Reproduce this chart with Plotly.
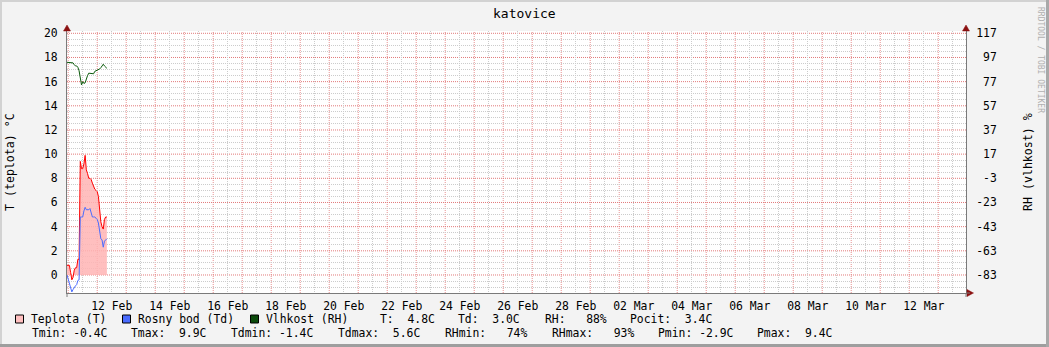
import plotly.graph_objects as go
import pandas as pd

# ---------------- data ----------------
start_time = "2025-02-10 23:00"
n_hours = 34
times = pd.date_range(start_time, periods=n_hours, freq="h")

teplota = [0.8, 0.8, 0.8, 0.2, -0.4, -0.2, 0.4, 0.6, 0.6, 1.3, 1.3,
           9.4, 8.8, 8.8, 9.2, 9.9, 8.7, 8.4, 8.0, 8.0, 7.9, 7.6, 7.3,
           7.1, 7.0, 6.9, 6.5, 5.2, 4.4, 4.0, 3.8, 4.6, 4.8, 4.8]
rosny_bod = [0.0, -0.4, -0.7, -1.1, -1.4, -1.2, -1.0, -0.9, -0.8, -0.45, -0.4,
             4.8, 4.8, 4.8, 5.3, 5.6, 5.4, 5.4, 5.4, 5.5, 5.0, 4.8, 4.8,
             4.8, 4.7, 4.6, 4.3, 3.6, 3.0, 2.9, 2.3, 2.8, 2.95, 3.0]
vlhkost = [93, 93, 93, 93, 93, 92.5, 91, 90, 90, 88.8, 86,
           78, 74.3, 77, 75.5, 76, 80, 82, 84, 84, 83.5, 84, 83.5,
           85.5, 86, 86, 86.5, 87.5, 88.5, 90, 91.4, 90, 88.8, 88]

x_range = ["2025-02-10 23:00", "2025-03-13 23:00"]
label_dates = ["2025-02-12 12:00", "2025-02-14 12:00", "2025-02-16 12:00",
               "2025-02-18 12:00", "2025-02-20 12:00", "2025-02-22 12:00",
               "2025-02-24 12:00", "2025-02-26 12:00", "2025-02-28 12:00",
               "2025-03-02 12:00", "2025-03-04 12:00", "2025-03-06 12:00",
               "2025-03-08 12:00", "2025-03-10 12:00", "2025-03-12 12:00"]
label_texts = ["12 Feb", "14 Feb", "16 Feb", "18 Feb", "20 Feb", "22 Feb",
               "24 Feb", "26 Feb", "28 Feb", "02 Mar", "04 Mar", "06 Mar",
               "08 Mar", "10 Mar", "12 Mar"]
t_ticks = [0, 2, 4, 6, 8, 10, 12, 14, 16, 18, 20]
rh_ticks = [-83, -63, -43, -23, -3, 17, 37, 57, 77, 97, 117]
t_range = [-1.49, 20.19]

legend_row1 = [("Teplota (T)", 30), ("Rosny bod (Td)", 137), ("Vlhkost (RH)", 265),
               ("T:  4.8C", 379), ("Td:  3.0C", 457), ("RH:   88%", 544),
               ("Pocit:  3.4C", 629)]
legend_row2 = [("Tmin: -0.4C", 30.5), ("Tmax:  9.9C", 130), ("Tdmin: -1.4C", 230),
               ("Tdmax:  5.6C", 337), ("RHmin:   74%", 444), ("RHmax:   93%", 551),
               ("Pmin: -2.9C", 656.5), ("Pmax:  9.4C", 756)]

# ---------------- styling ----------------
W, H = 1049, 347
PL, PR, PT, PB = 67, 966, 31, 293
FONT = "DejaVu Sans Mono"
RED_GRID_V = "#e89090"
RED_GRID_H = "#e27a7a"
GRAY_GRID = "#cccccc"
GRID_DASH = "1px,1px"
AXIS = "#7a7a7a"
ARROW = "#8b1010"
C_FILL = "rgba(255,180,180,0.85)"
C_T = "#ff0000"
C_TD = "#4a6cff"
C_RH = "#0b5a0b"


def px(x):
    return (x - PL) / (PR - PL)


def py(y):
    return (PB - y) / (PB - PT)


rh_range = [v * 10 - 83 for v in t_range]
rh_text = [f"{v:>3}".replace(" ", "\u00a0") for v in rh_ticks]
day_lines = pd.date_range("2025-02-11", "2025-03-13", freq="D")

fig = go.Figure()
fig.add_trace(go.Scatter(x=times, y=teplota, mode="lines", fill="tozeroy",
                         fillcolor=C_FILL, line=dict(color=C_T, width=1),
                         name="Teplota (T)", xaxis="x", yaxis="y"))
fig.add_trace(go.Scatter(x=times, y=rosny_bod, mode="lines",
                         line=dict(color=C_TD, width=1),
                         name="Rosny bod (Td)", xaxis="x", yaxis="y"))
fig.add_trace(go.Scatter(x=times, y=vlhkost, mode="lines",
                         line=dict(color=C_RH, width=1),
                         name="Vlhkost (RH)", xaxis="x", yaxis="y2"))

tickfont = dict(family=FONT, size=11.4, color="#000")

fig.update_layout(
    width=W, height=H,
    margin=dict(l=PL, r=W - PR, t=PT, b=H - PB, pad=0),
    paper_bgcolor="#f3f3f3", plot_bgcolor="#ffffff",
    showlegend=False,
    xaxis=dict(type="date", range=x_range, tickmode="array",
               tickvals=label_dates, ticktext=label_texts, tickfont=tickfont,
               ticklabelstandoff=2, showgrid=False, zeroline=False, ticks="",
               showline=True, linecolor=AXIS, linewidth=1,
               minor=dict(tick0="2025-02-11 12:00", dtick=86400000, showgrid=True,
                          gridcolor=GRAY_GRID, griddash=GRID_DASH, gridwidth=1)),
    yaxis=dict(range=t_range, tickmode="array", tickvals=t_ticks,
               tickfont=tickfont, showgrid=False, zeroline=False, ticks="",
               ticklabelstandoff=6,
               showline=True, linecolor=AXIS, linewidth=1,
               minor=dict(tick0=0.5, dtick=1, showgrid=True, gridcolor=GRAY_GRID,
                          griddash=GRID_DASH, gridwidth=1)),
    yaxis2=dict(range=rh_range, overlaying="y", side="right", tickmode="array",
                tickvals=rh_ticks, ticktext=rh_text, tickfont=tickfont,
                showgrid=False, zeroline=False, ticks="", ticklabelstandoff=7,
                showline=True, linecolor=AXIS, linewidth=1,
                minor=dict(tick0=-73, dtick=20, showgrid=True, gridcolor=GRAY_GRID,
                           griddash=GRID_DASH, gridwidth=1)),
)

ann = []
ann.append(dict(text="katovice", x=px(524), y=py(13), xref="paper", yref="paper",
                showarrow=False, xanchor="center", yanchor="middle",
                font=dict(family=FONT, size=13, color="#000")))
ann.append(dict(text="T (teplota) °C", x=px(10), y=py(162), xref="paper",
                yref="paper", showarrow=False, textangle=-90,
                xanchor="center", yanchor="middle",
                font=dict(family=FONT, size=11.6, color="#000")))
ann.append(dict(text="RH (vlhkost) %", x=px(1028), y=py(162), xref="paper",
                yref="paper", showarrow=False, textangle=-90,
                xanchor="center", yanchor="middle",
                font=dict(family=FONT, size=11.6, color="#000")))
ann.append(dict(text="RRDTOOL / TOBI OETIKER", x=px(1040), y=py(5), xref="paper",
                yref="paper", showarrow=False, textangle=90,
                xanchor="center", yanchor="top",
                font=dict(family=FONT, size=8, color="#b0b0b0")))
for txt, x0 in legend_row1:
    ann.append(dict(text=txt.replace(" ", "\u00a0"), x=px(x0), y=py(319),
                    xref="paper", yref="paper", showarrow=False,
                    xanchor="left", yanchor="middle", borderpad=0,
                    font=dict(family=FONT, size=11.4, color="#000")))
for txt, x0 in legend_row2:
    ann.append(dict(text=txt.replace(" ", "\u00a0"), x=px(x0), y=py(333),
                    xref="paper", yref="paper", showarrow=False,
                    xanchor="left", yanchor="middle", borderpad=0,
                    font=dict(family=FONT, size=11.4, color="#000")))
fig.update_layout(annotations=ann)

shapes = []
# major grid (red dotted) on the data scales
for d in day_lines:
    shapes.append(dict(type="line", xref="x", yref="paper", x0=d, x1=d, y0=0, y1=1,
                       layer="between", line=dict(color=RED_GRID_V, width=1, dash=GRID_DASH)))
for t in t_ticks:
    shapes.append(dict(type="line", xref="paper", yref="y", x0=0, x1=1, y0=t, y1=t,
                       layer="between", line=dict(color=RED_GRID_H, width=1, dash=GRID_DASH)))
# legend swatches
for x0, col in [(15.5, "#ffc0c0"), (122.5, "#4a6cff"), (250.5, "#0b4a0b")]:
    shapes.append(dict(type="rect", xref="paper", yref="paper",
                       x0=px(x0), x1=px(x0 + 8), y0=py(315), y1=py(323),
                       fillcolor=col, line=dict(color="#000", width=1)))


def tri(pts):
    d = "M " + " L ".join(f"{px(a)},{py(b)}" for a, b in pts) + " Z"
    return dict(type="path", xref="paper", yref="paper", path=d,
                fillcolor=ARROW, line=dict(color=ARROW, width=0.5))


shapes.append(tri([(63.5, 31), (70.5, 31), (67, 25)]))
shapes.append(tri([(962.5, 31), (969.5, 31), (966, 25)]))
shapes.append(tri([(967, 289.5), (967, 296.5), (973.5, 293)]))
# axis extensions
shapes.append(dict(type="line", xref="paper", yref="paper", x0=px(67), x1=px(67),
                   y0=py(293), y1=py(297), line=dict(color=AXIS, width=1)))
shapes.append(dict(type="line", xref="paper", yref="paper", x0=px(966), x1=px(966),
                   y0=py(293), y1=py(297), line=dict(color=AXIS, width=1)))
shapes.append(dict(type="line", xref="paper", yref="paper", x0=px(966), x1=px(970),
                   y0=py(293), y1=py(293), line=dict(color=AXIS, width=1)))
# image frame
shapes.append(dict(type="line", xref="paper", yref="paper", x0=px(0), x1=px(W),
                   y0=py(1), y1=py(1), line=dict(color="#d2d2d2", width=2)))
shapes.append(dict(type="line", xref="paper", yref="paper", x0=px(1), x1=px(1),
                   y0=py(0), y1=py(H), line=dict(color="#d2d2d2", width=2)))
shapes.append(dict(type="line", xref="paper", yref="paper", x0=px(0), x1=px(W),
                   y0=py(H - 1.5), y1=py(H - 1.5), line=dict(color="#9e9e9e", width=3)))
shapes.append(dict(type="line", xref="paper", yref="paper", x0=px(W - 1.5), x1=px(W - 1.5),
                   y0=py(0), y1=py(H), line=dict(color="#a8a8a8", width=3)))
fig.update_layout(shapes=shapes)

fig.write_html("out.html")
